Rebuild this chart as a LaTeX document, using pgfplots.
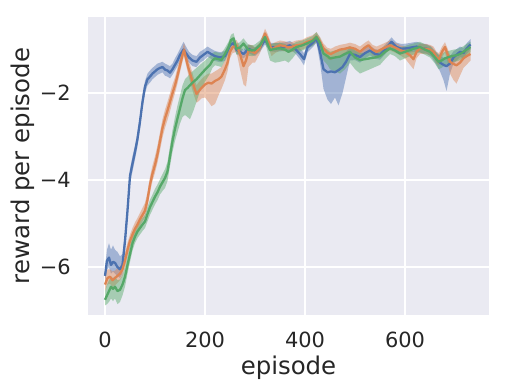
\documentclass[border=0pt]{standalone}
\usepackage{fontspec}
\setmainfont{DejaVu Sans}
\usepackage{pgfplots}
\usepackage{pgfplotstable}
\pgfplotsset{compat=1.18}
\usepgfplotslibrary{fillbetween}

\definecolor{sbblue}{HTML}{4C72B0}
\definecolor{sborange}{HTML}{DD8452}
\definecolor{sbgreen}{HTML}{55A868}
\definecolor{sbbg}{HTML}{EAEAF2}
\definecolor{sbtext}{HTML}{262626}

% x  mean  lower  upper
\pgfplotstableread{
x y lo hi
0 -6.20 -6.35 -6.00
4 -5.85 -6.05 -5.60
8 -5.78 -6.00 -5.45
12 -5.95 -6.15 -5.60
16 -5.88 -6.10 -5.50
20 -5.90 -6.15 -5.60
25 -6.00 -6.20 -5.65
30 -6.05 -6.25 -5.75
35 -5.95 -6.15 -5.70
40 -5.40 -5.60 -5.20
45 -4.70 -4.90 -4.50
50 -3.90 -4.08 -3.75
55 -3.62 -3.80 -3.45
60 -3.35 -3.52 -3.20
65 -3.05 -3.22 -2.90
70 -2.65 -2.82 -2.50
75 -2.20 -2.36 -2.05
80 -1.85 -2.00 -1.72
85 -1.68 -1.82 -1.55
90 -1.62 -1.76 -1.48
95 -1.55 -1.68 -1.42
100 -1.50 -1.63 -1.37
105 -1.45 -1.58 -1.32
110 -1.42 -1.55 -1.30
115 -1.40 -1.52 -1.28
120 -1.46 -1.60 -1.32
125 -1.48 -1.62 -1.35
130 -1.53 -1.66 -1.38
135 -1.45 -1.58 -1.32
140 -1.35 -1.48 -1.20
145 -1.25 -1.38 -1.10
150 -1.12 -1.25 -0.98
157 -1.00 -1.12 -0.82
163 -1.10 -1.22 -0.95
168 -1.18 -1.30 -1.05
175 -1.25 -1.38 -1.12
183 -1.28 -1.40 -1.15
190 -1.18 -1.30 -1.05
197 -1.12 -1.25 -1.00
205 -1.05 -1.16 -0.93
212 -1.10 -1.21 -0.98
220 -1.15 -1.26 -1.03
230 -1.18 -1.29 -1.06
240 -1.15 -1.26 -1.03
250 -0.90 -1.00 -0.80
257 -0.85 -0.95 -0.75
263 -1.00 -1.10 -0.90
270 -1.05 -1.15 -0.95
277 -1.10 -1.20 -1.00
287 -0.98 -1.08 -0.88
300 -1.05 -1.15 -0.95
310 -0.95 -1.05 -0.85
320 -0.78 -0.88 -0.66
330 -0.94 -1.04 -0.84
340 -0.95 -1.05 -0.85
350 -0.94 -1.04 -0.84
360 -0.93 -1.03 -0.83
370 -0.90 -1.00 -0.80
380 -0.98 -1.08 -0.88
390 -1.10 -1.22 -0.98
398 -1.22 -1.36 -1.08
405 -0.95 -1.06 -0.85
415 -0.85 -0.95 -0.75
423 -0.74 -0.84 -0.64
430 -1.05 -1.30 -0.90
437 -1.45 -1.90 -1.10
445 -1.52 -2.15 -1.20
452 -1.50 -2.25 -1.20
460 -1.52 -2.10 -1.20
467 -1.47 -2.28 -1.15
475 -1.40 -2.00 -1.10
482 -1.28 -1.65 -1.05
490 -1.10 -1.25 -0.95
500 -1.12 -1.24 -1.00
510 -1.17 -1.30 -1.05
520 -1.08 -1.20 -0.96
530 -1.02 -1.13 -0.91
540 -1.10 -1.21 -0.99
550 -1.12 -1.23 -1.01
560 -1.00 -1.11 -0.89
573 -0.82 -0.93 -0.72
583 -0.94 -1.05 -0.84
593 -0.98 -1.09 -0.87
603 -0.97 -1.08 -0.86
613 -0.95 -1.06 -0.84
623 -0.93 -1.04 -0.82
633 -0.97 -1.08 -0.86
643 -0.98 -1.09 -0.87
653 -1.05 -1.17 -0.93
663 -1.20 -1.35 -1.06
670 -1.30 -1.50 -1.15
677 -1.35 -1.70 -1.18
683 -1.38 -1.95 -1.20
690 -1.32 -1.55 -1.15
697 -1.18 -1.32 -1.04
703 -1.12 -1.25 -0.99
710 -1.05 -1.17 -0.93
717 -1.08 -1.20 -0.96
723 -0.98 -1.10 -0.86
731 -0.88 -1.00 -0.76
}\blue

\pgfplotstableread{
x y lo hi
0 -6.40 -6.55 -6.20
5 -6.25 -6.40 -6.05
10 -6.22 -6.38 -6.05
15 -6.30 -6.45 -6.10
20 -6.25 -6.42 -6.08
25 -6.20 -6.36 -6.02
30 -6.15 -6.30 -5.98
35 -6.05 -6.20 -5.88
40 -5.85 -6.00 -5.68
45 -5.60 -5.75 -5.44
50 -5.40 -5.55 -5.25
55 -5.25 -5.40 -5.10
60 -5.12 -5.27 -4.97
65 -5.02 -5.17 -4.87
70 -4.90 -5.05 -4.75
75 -4.80 -4.95 -4.64
80 -4.70 -4.86 -4.52
85 -4.45 -4.62 -4.28
90 -4.10 -4.28 -3.92
95 -3.85 -4.02 -3.66
100 -3.65 -3.83 -3.45
105 -3.40 -3.60 -3.20
110 -3.10 -3.32 -2.90
115 -2.80 -3.02 -2.60
120 -2.58 -2.80 -2.38
125 -2.40 -2.62 -2.20
130 -2.20 -2.42 -2.00
135 -2.00 -2.20 -1.80
140 -1.82 -2.00 -1.64
145 -1.60 -1.78 -1.42
150 -1.36 -1.52 -1.20
155 -1.12 -1.28 -0.98
158 -1.01 -1.15 -0.85
162 -1.20 -1.35 -1.02
167 -1.43 -1.60 -1.25
172 -1.62 -1.82 -1.42
177 -1.82 -2.02 -1.62
183 -2.02 -2.22 -1.82
188 -1.95 -2.18 -1.74
193 -1.88 -2.12 -1.68
200 -1.80 -2.10 -1.60
207 -1.76 -2.20 -1.55
213 -1.78 -2.30 -1.55
220 -1.72 -2.25 -1.50
227 -1.68 -2.05 -1.45
233 -1.62 -1.90 -1.40
240 -1.45 -1.70 -1.25
245 -1.30 -1.50 -1.12
250 -1.05 -1.20 -0.90
255 -0.95 -1.08 -0.82
263 -0.90 -1.05 -0.78
270 -1.10 -1.45 -0.92
277 -1.38 -1.80 -1.15
282 -1.25 -1.85 -1.05
287 -1.02 -1.40 -0.88
295 -1.05 -1.30 -0.90
300 -1.08 -1.30 -0.95
310 -0.95 -1.08 -0.83
320 -0.63 -0.76 -0.52
325 -0.75 -0.88 -0.63
333 -1.00 -1.15 -0.88
340 -0.95 -1.08 -0.83
350 -0.90 -1.02 -0.79
360 -0.92 -1.04 -0.81
367 -0.95 -1.07 -0.84
375 -0.93 -1.05 -0.82
383 -0.90 -1.02 -0.79
395 -0.88 -1.00 -0.77
403 -0.83 -0.95 -0.72
415 -0.78 -0.90 -0.67
423 -0.70 -0.82 -0.60
430 -0.82 -0.94 -0.71
437 -0.97 -1.10 -0.86
445 -1.08 -1.22 -0.96
452 -1.10 -1.24 -0.98
460 -1.05 -1.18 -0.93
470 -1.00 -1.13 -0.89
480 -0.98 -1.10 -0.87
490 -0.95 -1.07 -0.84
500 -0.98 -1.10 -0.87
510 -1.05 -1.20 -0.93
520 -0.95 -1.08 -0.84
527 -0.90 -1.02 -0.79
535 -1.00 -1.12 -0.89
543 -1.05 -1.18 -0.93
555 -0.98 -1.10 -0.87
570 -0.90 -1.02 -0.79
580 -0.95 -1.07 -0.84
590 -1.01 -1.13 -0.90
600 -1.05 -1.20 -0.93
610 -1.13 -1.35 -1.00
617 -1.22 -1.45 -1.05
623 -1.05 -1.20 -0.93
630 -0.97 -1.10 -0.86
640 -0.98 -1.10 -0.87
650 -1.00 -1.12 -0.89
657 -1.05 -1.18 -0.93
663 -1.18 -1.32 -1.05
668 -1.22 -1.36 -1.08
674 -1.05 -1.18 -0.93
680 -0.94 -1.06 -0.83
685 -1.10 -1.30 -0.97
690 -1.28 -1.55 -1.12
697 -1.33 -1.70 -1.15
703 -1.36 -1.78 -1.18
710 -1.30 -1.60 -1.12
717 -1.20 -1.42 -1.05
723 -1.15 -1.35 -1.00
731 -1.10 -1.25 -0.97
}\orange

\pgfplotstableread{
x y lo hi
0 -6.75 -6.88 -6.55
4 -6.65 -6.85 -6.40
8 -6.55 -6.80 -6.30
12 -6.45 -6.72 -6.22
16 -6.50 -6.78 -6.25
20 -6.45 -6.72 -6.22
25 -6.55 -6.85 -6.30
30 -6.52 -6.80 -6.28
35 -6.40 -6.65 -6.18
40 -6.22 -6.45 -6.00
45 -5.95 -6.15 -5.75
50 -5.70 -5.88 -5.50
55 -5.45 -5.62 -5.28
60 -5.30 -5.45 -5.14
65 -5.18 -5.33 -5.03
70 -5.10 -5.25 -4.95
75 -5.02 -5.17 -4.87
80 -4.95 -5.10 -4.80
85 -4.78 -4.95 -4.62
90 -4.62 -4.80 -4.45
95 -4.50 -4.68 -4.33
100 -4.38 -4.56 -4.20
105 -4.28 -4.46 -4.10
110 -4.15 -4.33 -3.98
115 -4.05 -4.25 -3.86
120 -3.95 -4.18 -3.75
125 -3.80 -4.02 -3.58
130 -3.45 -3.68 -3.22
135 -3.10 -3.35 -2.85
140 -2.82 -3.10 -2.55
145 -2.58 -2.90 -2.28
150 -2.35 -2.70 -2.05
155 -2.12 -2.55 -1.82
160 -1.93 -2.50 -1.68
165 -1.88 -2.55 -1.62
170 -1.82 -2.60 -1.55
177 -1.74 -2.40 -1.48
183 -1.68 -2.20 -1.42
190 -1.59 -1.95 -1.35
197 -1.50 -1.80 -1.28
203 -1.43 -1.68 -1.22
210 -1.35 -1.55 -1.15
215 -1.25 -1.42 -1.08
220 -1.20 -1.36 -1.05
227 -1.22 -1.38 -1.07
233 -1.24 -1.40 -1.08
240 -1.10 -1.25 -0.96
247 -0.95 -1.08 -0.82
252 -0.78 -0.90 -0.66
257 -0.74 -0.86 -0.62
263 -0.98 -1.12 -0.86
270 -0.95 -1.08 -0.83
277 -0.86 -0.98 -0.74
283 -0.95 -1.08 -0.83
287 -1.01 -1.14 -0.89
295 -1.02 -1.15 -0.90
300 -1.00 -1.12 -0.88
310 -0.90 -1.02 -0.79
320 -0.71 -0.83 -0.60
330 -1.01 -1.25 -0.88
340 -0.98 -1.30 -0.85
350 -0.97 -1.28 -0.84
360 -1.00 -1.25 -0.87
367 -1.05 -1.30 -0.92
375 -1.00 -1.20 -0.88
383 -0.94 -1.08 -0.82
395 -0.90 -1.02 -0.79
403 -0.86 -0.98 -0.75
415 -0.80 -0.92 -0.69
423 -0.71 -0.83 -0.60
430 -0.85 -0.98 -0.73
437 -1.09 -1.25 -0.95
445 -1.15 -1.35 -1.00
450 -1.20 -1.45 -1.05
460 -1.18 -1.50 -1.02
470 -1.16 -1.55 -1.00
480 -1.10 -1.45 -0.96
490 -1.05 -1.30 -0.92
500 -1.18 -1.45 -1.02
510 -1.24 -1.55 -1.08
520 -1.22 -1.50 -1.07
530 -1.20 -1.45 -1.05
540 -1.18 -1.40 -1.03
550 -1.15 -1.35 -1.00
560 -1.05 -1.22 -0.92
570 -0.97 -1.10 -0.85
580 -1.02 -1.15 -0.90
590 -1.09 -1.25 -0.95
600 -1.05 -1.20 -0.92
610 -1.01 -1.15 -0.88
620 -0.97 -1.10 -0.85
630 -0.94 -1.06 -0.82
640 -1.00 -1.12 -0.88
650 -1.05 -1.18 -0.92
660 -1.18 -1.32 -1.04
667 -1.28 -1.45 -1.12
673 -1.25 -1.42 -1.10
680 -1.20 -1.36 -1.05
690 -1.16 -1.30 -1.02
697 -1.14 -1.28 -1.00
703 -1.13 -1.27 -0.99
710 -1.10 -1.24 -0.96
717 -1.05 -1.18 -0.92
723 -1.00 -1.13 -0.87
731 -0.94 -1.06 -0.82
}\green

\begin{document}
\begin{tikzpicture}
\begin{axis}[
  at={(0,0)}, anchor=south west,
  scale only axis, width=401bp, height=298bp,
  xmin=-34, xmax=768, ymin=-7.10, ymax=-0.25,
  xtick={0,200,400,600}, ytick={-6,-4,-2},
  xticklabels={0,200,400,600}, yticklabels={−6,−4,−2},
  axis background/.style={fill=sbbg},
  axis line style={draw=none},
  major tick length=0pt,
  grid=major, grid style={white, line width=1.4bp},
  tick label style={font=\fontsize{21}{25}\selectfont, text=sbtext, inner sep=0pt},
  xticklabel style={anchor=north, yshift=-17bp},
  yticklabel style={anchor=east, xshift=-17bp},
  label style={font=\fontsize{24.5}{29}\selectfont, text=sbtext},
  xlabel={episode}, ylabel={reward per episode},
  xlabel style={at={(axis description cs:0.5,-0.2013)}, anchor=base, inner sep=0pt},
  ylabel style={at={(axis description cs:-0.162,0.5)}, anchor=center, inner sep=0pt},
]
% blue
\addplot[draw=none, name path=bl, forget plot] table[x=x, y=lo] {\blue};
\addplot[draw=none, name path=bh, forget plot] table[x=x, y=hi] {\blue};
\addplot[sbblue, fill opacity=0.45, draw=none, forget plot] fill between[of=bl and bh];
\addplot[sbblue, line width=2.3bp, line join=round] table[x=x, y=y] {\blue};
% orange
\addplot[draw=none, name path=ol, forget plot] table[x=x, y=lo] {\orange};
\addplot[draw=none, name path=oh, forget plot] table[x=x, y=hi] {\orange};
\addplot[sborange, fill opacity=0.45, draw=none, forget plot] fill between[of=ol and oh];
\addplot[sborange, line width=2.3bp, line join=round] table[x=x, y=y] {\orange};
% green
\addplot[draw=none, name path=gl, forget plot] table[x=x, y=lo] {\green};
\addplot[draw=none, name path=gh, forget plot] table[x=x, y=hi] {\green};
\addplot[sbgreen, fill opacity=0.45, draw=none, forget plot] fill between[of=gl and gh];
\addplot[sbgreen, line width=2.3bp, line join=round] table[x=x, y=y] {\green};
\end{axis}
\pgfresetboundingbox
\path[use as bounding box] (-88bp,-77bp) rectangle (417bp,315bp);
\end{tikzpicture}
\end{document}
